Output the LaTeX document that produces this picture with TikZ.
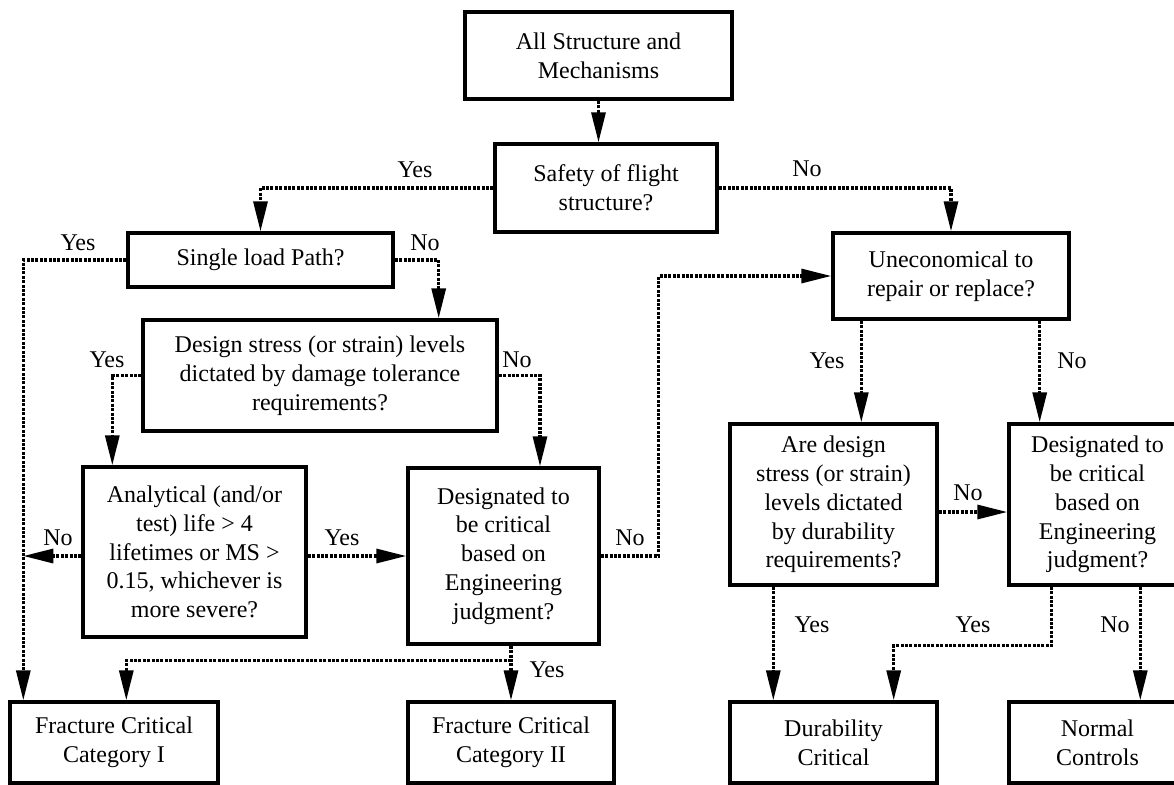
\documentclass[tikz,border=0pt]{standalone}
\usepackage{fontspec}
\setmainfont{Liberation Serif}
\usetikzlibrary{arrows.meta,calc}

\begin{document}
\begin{tikzpicture}[
    x=0.5pt, y=-0.5pt,
    font=\fontsize{12}{14.4}\selectfont,
    box/.style={draw,line width=1.7pt,align=center,inner sep=0pt},
    flow/.style={line width=1.6pt,dash pattern=on 1.5pt off 0.7pt,-{Triangle[length=15pt,width=7pt]}}
]
\useasboundingbox (0,0) rectangle (1174,784);

% Start
\node[box,minimum width=133.5pt,minimum height=43.5pt] (All) at (598.5,55.5) {All Structure and\\Mechanisms};
\node[box,minimum width=111pt,minimum height=44pt] (Safe) at (606,188) {Safety of flight\\structure?};

% Safety of flight branch
\node[box,minimum width=132.5pt,minimum height=27pt] (SLP) at (260.5,260) {Single load Path?};
\node[box,minimum width=177pt,minimum height=55.5pt] (DS) at (320,375.5) {Design stress (or strain) levels\\dictated by damage tolerance\\requirements?};
\node[box,minimum width=111.5pt,minimum height=85pt] (AL) at (194.5,552) {Analytical (and/or\\test) life > 4\\lifetimes or MS >\\0.15, whichever is\\more severe?};
\node[box,minimum width=95.5pt,minimum height=88pt] (DJ1) at (503.5,556) {Designated to\\be critical\\based on\\Engineering\\judgment?};

% Non safety of flight branch
\node[box,minimum width=118pt,minimum height=43pt] (UR) at (951,276) {Uneconomical to\\repair or replace?};
\node[box,minimum width=103.5pt,minimum height=80.5pt] (AD) at (833.5,504.5) {Are design\\stress (or strain)\\levels dictated\\by durability\\requirements?};
\node[box,minimum width=88.5pt,minimum height=80.5pt] (DJ2) at (1097.5,504.5) {Designated to\\be critical\\based on\\Engineering\\judgment?};

% Categories
\node[box,minimum width=104pt,minimum height=40.5pt] (FC1) at (114,742.5) {Fracture Critical\\Category I};
\node[box,minimum width=103pt,minimum height=40.5pt] (FC2) at (511,742.5) {Fracture Critical\\Category II};
\node[box,minimum width=103.5pt,minimum height=40.5pt] (DC) at (833.5,742.5) {Durability\\Critical};
\node[box,minimum width=88.5pt,minimum height=40.5pt] (NC) at (1097.5,742.5) {Normal\\Controls};

% Entry points
\coordinate (Trunk) at ($(FC1.north west)+(15,0)$);
\coordinate (FC1in) at ($(FC1.north west)+(118,0)$);
\coordinate (J1) at ($(DJ1.south -| FC2.north)+(0,15)$);
\coordinate (URy) at ($(UR.south west)+(30,0)$);
\coordinate (URn) at ($(UR.south east)+(-31,0)$);
\coordinate (ADy) at ($(AD.south west)+(45,0)$);
\coordinate (DJy) at ($(DJ2.south west)+(44,0)$);
\coordinate (DJn) at ($(DJ2.south west)+(133,0)$);
\coordinate (DCin) at ($(DC.north east)+(-45,0)$);

% Connectors
\draw[flow] (All.south) -- (All.south |- Safe.north);
\draw[flow] (Safe.west) -| (SLP.north);
\draw[flow] (Safe.east) -| (UR.north);
\draw[flow] (SLP.west) -| (Trunk);
\draw[flow] (SLP.east) -| ($(DS.north east)+(-60,0)$);
\draw[flow] (DS.west) -| ($(AL.north west)+(31,0)$);
\draw[flow] (DS.east) -| ($(DJ1.north)+(36.5,0)$);
\draw[flow] (AL.west |- DJ1.west) -- (Trunk |- DJ1.west);
\draw[flow] (AL.east |- DJ1.west) -- (DJ1.west);
\draw[flow] (DJ1.east) -- ++(58,0) |- (UR.west);
\draw[flow] (DJ1.south -| FC2.north) -- (FC2.north);
\draw[flow] (J1) -| (FC1in);
\draw[flow] (URy) -- (URy |- AD.north);
\draw[flow] (URn) -- (URn |- DJ2.north);
\draw[flow] ($(AD.east)+(0,7.5)$) -- ($(DJ2.west)+(0,7.5)$);
\draw[flow] (ADy) -- (ADy |- DC.north);
\draw[flow] (DJy) -- ++(0,59) -| (DCin);
\draw[flow] (DJn) -- (DJn |- NC.north);

% Answers
\node (a1) at (415,170) {Yes};
\node (a2) at (807,169) {No};
\node (a3) at (78,243) {Yes};
\node (a4) at (425,243) {No};
\node (a5) at (107,360) {Yes};
\node (a6) at (517,360) {No};
\node (a7) at (58,538) {No};
\node (a8) at (342,538) {Yes};
\node (a9) at (630,538) {No};
\node (a10) at (547,670) {Yes};
\node (a11) at (827,361) {Yes};
\node (a12) at (1072,361) {No};
\node (a13) at (968,493) {No};
\node (a14) at (812,625) {Yes};
\node (a15) at (973,625) {Yes};
\node (a16) at (1115,625) {No};

\end{tikzpicture}
\end{document}
